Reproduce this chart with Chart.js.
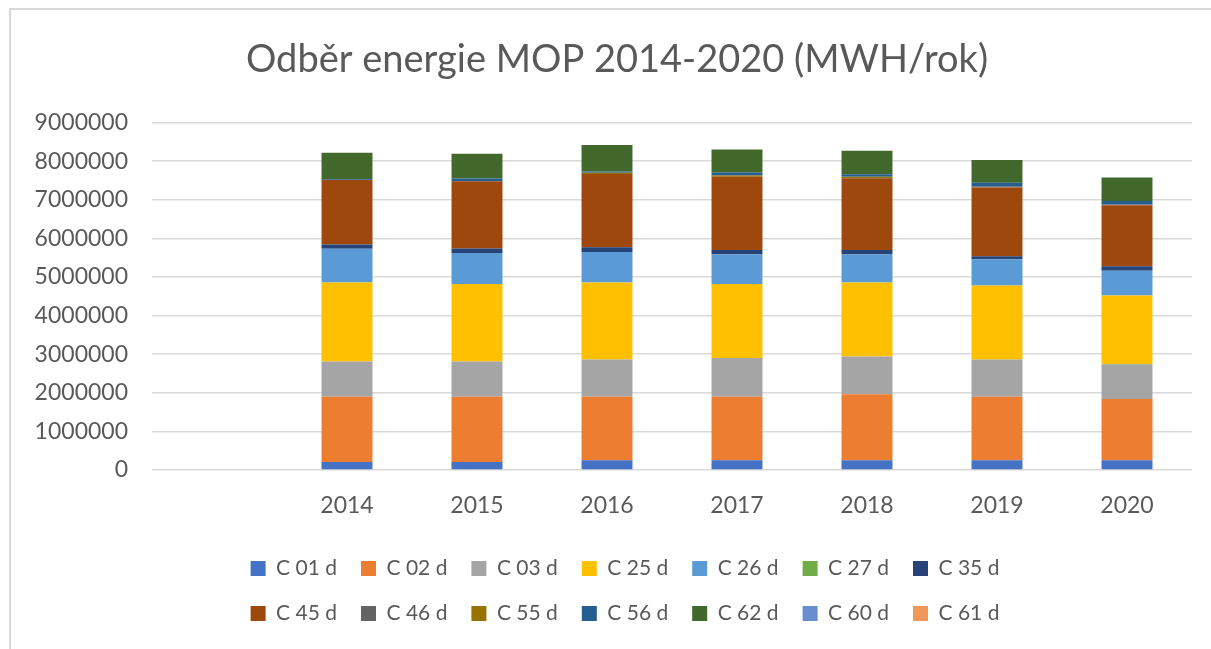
<!DOCTYPE html>
<html>
<head>
<meta charset="utf-8">
<script src="https://cdn.jsdelivr.net/npm/chart.js@4/dist/chart.umd.min.js"></script>
<style>
  body { margin: 0; background: #fff; }
  #wrap { position: relative; width: 1211px; height: 649px; overflow: hidden; }
  #frame { position: absolute; left: 9px; top: 8px; right: -5px; bottom: -5px;
           border-top: 2px solid #d9d9d9; border-left: 2px solid #d9d9d9; }
  #chart { position: absolute; left: 0; top: 0; }
</style>
</head>
<body>
<div id="wrap">
  <div id="frame"></div>
  <canvas id="chart" width="1211" height="649"></canvas>
</div>
<script>
const years = ["2014", "2015", "2016", "2017", "2018", "2019", "2020"];
// first category is empty in the original sheet
const categories = [""].concat(years);

const c01 = [210000, 210000, 250000, 250000, 250000, 250000, 250000];
const c02 = [1690000, 1690000, 1650000, 1650000, 1710000, 1650000, 1590000];
const c03 = [910000, 910000, 960000, 1000000, 980000, 960000, 900000];
const c25 = [2050000, 2010000, 2000000, 1920000, 1920000, 1920000, 1780000];
const c26 = [870000, 800000, 790000, 760000, 720000, 680000, 640000];
const c27 = [0, 0, 0, 0, 0, 0, 0];
const c35 = [110000, 120000, 120000, 120000, 120000, 80000, 120000];
const c45 = [1670000, 1740000, 1900000, 1900000, 1860000, 1780000, 1580000];
const c46 = [0, 0, 0, 0, 0, 30000, 20000];
const c55 = [0, 0, 30000, 30000, 40000, 0, 0];
const c56 = [20000, 70000, 30000, 80000, 60000, 90000, 90000];
const c62 = [690000, 640000, 690000, 590000, 610000, 590000, 610000];
const c60 = [0, 0, 0, 0, 0, 0, 0];
const c61 = [0, 0, 0, 0, 0, 0, 0];

const yTicks = [0, 1000000, 2000000, 3000000, 4000000, 5000000, 6000000, 7000000, 8000000, 9000000];

const series = [
  ["C 01 d", c01, "#4472C4"],
  ["C 02 d", c02, "#ED7D31"],
  ["C 03 d", c03, "#A5A5A5"],
  ["C 25 d", c25, "#FFC000"],
  ["C 26 d", c26, "#5B9BD5"],
  ["C 27 d", c27, "#70AD47"],
  ["C 35 d", c35, "#264478"],
  ["C 45 d", c45, "#9E480E"],
  ["C 46 d", c46, "#636363"],
  ["C 55 d", c55, "#997300"],
  ["C 56 d", c56, "#255E91"],
  ["C 62 d", c62, "#43682B"],
  ["C 60 d", c60, "#698ED0"],
  ["C 61 d", c61, "#F1975A"],
];

const textColor = "#595959";
const gridColor = "#d9d9d9";
const fontFamily = "Lato, 'Open Sans', sans-serif";
const legendWidth = 860; // room for 7 items per row

// squeeze the legend to a fixed width so it wraps after 7 items,
// and nudge the title a bit right like in the original
const layoutTweaks = {
  id: "layoutTweaks",
  beforeLayout(chart) {
    const lg = chart.legend;
    if (lg && !lg._patched) {
      const origFit = lg.fit;
      lg.fit = function () {
        this.maxWidth = Math.min(this.maxWidth, legendWidth);
        origFit.call(this);
      };
      lg._patched = true;
    }
  },
  afterLayout(chart) {
    const lg = chart.legend;
    lg.left = 195;
    lg.right = lg.left + legendWidth;
    lg.width = legendWidth;
    chart.titleBlock.left = 42;
  },
};

const ctx = document.querySelector("#chart").getContext("2d");

const energyChart = new Chart(ctx, {
  type: "bar",
  data: {
    labels: categories,
    datasets: series.map(s => ({
      label: s[0],
      data: [null].concat(s[1]),
      backgroundColor: s[2],
      borderWidth: 0,
      categoryPercentage: 0.392,
      barPercentage: 1,
    })),
  },
  plugins: [layoutTweaks],
  options: {
    responsive: false,
    animation: false,
    layout: {
      padding: { left: 0, right: 19, top: 0, bottom: 15 },
    },
    plugins: {
      tooltip: { enabled: false },
      title: {
        display: true,
        text: "Odběr energie MOP 2014-2020 (MWH/rok)",
        color: textColor,
        font: { family: fontFamily, size: 38, weight: "normal" },
        padding: { top: 37, bottom: 40 },
      },
      legend: {
        position: "bottom",
        labels: {
          color: textColor,
          font: { family: fontFamily, size: 21 },
          boxWidth: 15,
          boxHeight: 15,
          padding: 24,
        },
      },
    },
    scales: {
      x: {
        stacked: true,
        grid: { display: false, drawTicks: false },
        border: { display: false },
        ticks: {
          color: textColor,
          font: { family: fontFamily, size: 23 },
          padding: 22,
        },
        afterFit: function (scale) {
          scale.height = 64;
        },
      },
      y: {
        stacked: true,
        min: 0,
        max: 9000000,
        afterBuildTicks: function (scale) {
          scale.ticks = yTicks.map(v => ({ value: v }));
        },
        grid: { color: gridColor, lineWidth: 1.6, drawTicks: false },
        border: { display: false },
        ticks: {
          color: textColor,
          font: { family: fontFamily, size: 23 },
          padding: 24,
          callback: v => String(v),
        },
        afterFit: function (scale) {
          scale.width = 152;
        },
      },
    },
  },
});
</script>
</body>
</html>
